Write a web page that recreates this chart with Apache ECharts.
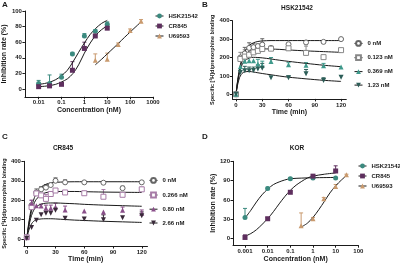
<!DOCTYPE html>
<html>
<head>
<meta charset="utf-8">
<script src="https://cdn.jsdelivr.net/npm/echarts@6/dist/echarts.min.js"></script>
<style>
  html, body { margin: 0; padding: 0; background: #fff; }
  #chart { width: 400px; height: 264px; }
</style>
</head>
<body>
<div id="chart"></div>
<script>
// A: inhibition rate vs concentration
const concA = [0.01, 0.03, 0.1, 0.3, 1, 3, 10]
const hskA = [7, 7, 15, 45, 68, 74, 83]
const hskAErr = [11, 18, 19, 47, 71, 76, 86]
const crA = [3, 4, 6, 24, 52, 68, 78]
const crAErr = [5, 6, 8, 35, 60, 70, 80]
const concUA = [3, 10, 30, 100, 300]
const uA = [37, 38, 57, 75, 87]
const uAErr = [45, 46, 59, 77, 89]
const curveXA = [0.01, 0.018, 0.032, 0.056, 0.1, 0.18, 0.32, 0.56, 1, 1.8, 3.2, 5.6, 10]
const hskCurveA = [6, 7, 9, 12, 17, 24, 35, 47, 59, 70, 78, 84, 88]
const crCurveA = [3, 3.5, 4.5, 6, 9, 13, 20, 31, 46, 59, 69, 76, 81]
const uCurveXA = [3, 5.6, 10, 18, 32, 56, 100, 180, 300]
const uCurveA = [31, 38, 45, 52, 59, 66, 73, 80, 86]
const xTicksA = [0.01, 0.1, 1, 10, 100, 1000]
const xTickLabelsA = ['0.01', '0.1', '1', '10', '100', '1000']
const yTicksA = [0, 20, 40, 60, 80, 100]

// B: HSK21542 kinetics
const timeB = [0, 5, 10, 15, 20, 25, 30, 40, 60, 80, 100, 120]
const b0 = [0, 200, 222, 252, 256, 262, 270, 252, 272, 282, 285, 300]
const b1 = [0, 192, 205, 215, 228, 236, 246, 248, 250, 225, 202, 240]
const b2 = [0, 150, 180, 183, 182, 165, 157, 178, 160, 158, 155, 148]
const b3 = [0, 118, 128, 128, 130, 138, 142, 90, 90, 112, 75, 92]
const b0Err = [null, null, 255, 280, 275, 273, 302, null, null, null, null, null]
const b1Err = [null, 228, 242, null, null, null, null, null, null, 262, null, null]
const b2Err = [null, null, null, null, null, 190, 180, 200, 172, 172, 168, null]
const b3Err = [null, null, 152, 148, 148, 160, 168, null, 100, 135, 90, 102]
const curveT = [0, 1, 2, 4, 6, 8, 10, 15, 20, 25, 30, 40, 50, 60, 80, 100, 120]
const b0Curve = [0, 43, 80, 138, 181, 212, 233, 265, 280, 287, 290, 292, 292, 292, 292, 292, 292]
const b1Curve = [0, 40, 75, 128, 166, 192, 210, 234, 243, 246, 247, 246, 244, 241, 236, 232, 228]
const b2Curve = [0, 36, 68, 117, 150, 170, 183, 197, 201, 200, 198, 192, 185, 179, 168, 158, 150]
const b3Curve = [0, 30, 55, 90, 108, 118, 122, 124, 121, 117, 113, 106, 99, 93, 84, 76, 70]

// C: CR845 kinetics
const timeC = [0, 5, 10, 15, 20, 25, 30, 40, 60, 80, 100, 120]
const c0 = [10, 175, 240, 256, 265, 278, 300, 292, 292, 290, 262, 292]
const c1 = [10, 165, 235, 225, 207, 232, 250, 240, 236, 218, 228, 256]
const c2 = [10, 185, 172, 170, 159, 159, 165, 150, 145, 140, 148, 133]
const c3 = [5, 60, 97, 125, 133, 133, 148, 108, 104, 100, 110, 120]
const c0Err = [null, null, 258, 270, 280, 285, 315, 305, null, null, 272, null]
const c1Err = [null, 200, null, null, 230, 245, null, null, null, 255, null, 268]
const c2Err = [null, 200, null, 180, 175, 175, 185, 170, null, null, 165, 150]
const c3Err = [null, null, null, null, null, null, null, null, null, 125, null, 140]
const c0Curve = [5, 45, 82, 140, 183, 214, 236, 268, 282, 289, 292, 294, 295, 295, 295, 295, 295]
const c1Curve = [5, 40, 73, 125, 162, 188, 205, 229, 239, 243, 245, 245, 245, 244, 242, 241, 240]
const c2Curve = [5, 35, 63, 106, 136, 155, 167, 180, 185, 186, 186, 184, 182, 179, 175, 172, 169]
const c3Curve = [5, 25, 44, 70, 86, 95, 100, 104, 105, 105, 104, 101, 98, 96, 92, 89, 86]
const timeTicks = [0, 30, 60, 90, 120]
const yTicksBC = [0, 100, 200, 300, 400]

// D: KOR
const concD = [0.001, 0.01, 0.1, 1, 10]
const hskD = [33, 78, 93, 94, 94]
const hskDErr = [47, 80, 95, 96, 95]
const crD = [2, 31, 72, 97, 105]
const crDErr = [6, 33, 74, 99, 113]
const concUD = [0.3, 1, 3, 10, 30]
const uD = [20, 31, 62, 81, 99]
const uDErr = [40, 33, 64, 84, 100]
const hskCurveXD = [0.001, 0.0018, 0.0032, 0.0056, 0.01, 0.018, 0.032, 0.056, 0.1, 0.32, 1, 10]
const hskCurveD = [32, 44, 57, 68, 77, 84, 88, 91, 93, 94, 94.5, 95]
const crCurveXD = [0.001, 0.0018, 0.0032, 0.0056, 0.01, 0.018, 0.032, 0.056, 0.1, 0.18, 0.32, 0.56, 1, 3.2, 10]
const crCurveD = [4, 8, 14, 22, 31, 42, 54, 65, 75, 83, 89, 94, 97, 100, 102]
const uCurveXD = [0.3, 0.56, 1, 1.8, 3.2, 5.6, 10, 18, 30]
const uCurveD = [18, 24, 33, 45, 58, 71, 82, 91, 98]
const xTicksD = [0.001, 0.01, 0.1, 1, 10, 100]
const xTickLabelsD = ['0.001', '0.01', '0.1', '1', '10', '100']
const yTicksD = [0, 30, 60, 90, 120]

const TEAL = '#3b8a7f'
const PURPLE = '#5e2f5e'
const TAN = '#c99a6e'
const FONT = '"Liberation Sans", Arial, sans-serif'
const INK = '#1a1a1a'

const lg = v => Math.log10(v)
const pairs = (xs, ys, fx) => xs.map((x, i) => [fx ? fx(x) : x, ys[i]])

function axis(grid, min, max, ticks, fmt, name, nameGap, nameSize) {
  return {
    type: 'value', gridIndex: grid, min: min, max: max,
    axisLine: { onZero: false, lineStyle: { color: INK, width: 1 } },
    axisTick: { customValues: ticks, length: 2.5, lineStyle: { color: INK, width: 1 } },
    axisLabel: {
      customValues: ticks, formatter: fmt, margin: 3,
      fontSize: 6, fontWeight: 'bold', fontFamily: FONT, color: INK
    },
    splitLine: { show: false },
    name: name, nameLocation: 'middle', nameGap: nameGap,
    nameTextStyle: { fontSize: nameSize || 7, fontWeight: 'bold', fontFamily: FONT, color: INK }
  }
}

function logFmt(ticks, labels) {
  return v => {
    const i = ticks.findIndex(t => Math.abs(lg(t) - v) < 1e-6)
    return i >= 0 ? labels[i] : ''
  }
}

function markers(name, grid, data, symbol, color, filled, rotate) {
  return {
    name: name, type: 'line', xAxisIndex: grid, yAxisIndex: grid,
    data: data, symbol: symbol, symbolSize: 5, symbolRotate: rotate || 0,
    showSymbol: true, lineStyle: { opacity: 0 },
    itemStyle: { color: filled ? color : '#fff', borderColor: color, borderWidth: filled ? 0 : 1 },
    z: 3, silent: true
  }
}

function curve(grid, data) {
  return {
    type: 'line', xAxisIndex: grid, yAxisIndex: grid, data: data,
    smooth: 0.3, symbol: 'none',
    lineStyle: { color: INK, width: 1 }, z: 2, silent: true
  }
}

function errBars(grid, xs, ys, his, color, fx) {
  const data = []
  xs.forEach((x, i) => {
    if (his[i] != null) data.push([fx ? fx(x) : x, ys[i], his[i]])
  })
  return {
    type: 'custom', xAxisIndex: grid, yAxisIndex: grid, data: data, z: 1, silent: true,
    renderItem: (params, api) => {
      const a = api.coord([api.value(0), api.value(1)])
      const b = api.coord([api.value(0), api.value(2)])
      const st = { stroke: color, lineWidth: 1 }
      return {
        type: 'group', children: [
          { type: 'line', shape: { x1: a[0], y1: a[1], x2: b[0], y2: b[1] }, style: st },
          { type: 'line', shape: { x1: b[0] - 2, y1: b[1], x2: b[0] + 2, y2: b[1] }, style: st }
        ]
      }
    }
  }
}

function legend(names, left, top, gap) {
  return {
    data: names, left: left, top: top, orient: 'vertical',
    itemWidth: 8, itemHeight: 6, itemGap: gap,
    textStyle: { fontSize: 6, fontWeight: 'bold', fontFamily: FONT, color: INK },
    lineStyle: { opacity: 1, width: 1, color: INK }
  }
}

function label(text, x, y, size, align) {
  return {
    type: 'text', x: x, y: y,
    style: { text: text, align: align || 'left', verticalAlign: 'middle', fill: INK, font: 'bold ' + size + 'px ' + FONT }
  }
}

const chart = echarts.init(document.getElementById('chart'))

const option = {
  animation: false,
  backgroundColor: '#fff',
  grid: [
    { left: 22.3, top: 11, width: 130.7, height: 85.8 },
    { left: 232.5, top: 20.7, width: 113.8, height: 78.2 },
    { left: 22.8, top: 161.3, width: 124.7, height: 84.8 },
    { left: 233, top: 161.3, width: 125.3, height: 83.9 }
  ],
  xAxis: [
    axis(0, -2.6, 3, xTicksA.map(lg), logFmt(xTicksA, xTickLabelsA), 'Concentration (nM)', 10),
    axis(1, -4, 126, timeTicks, null, 'Time (min)', 10),
    axis(2, -3, 126, timeTicks, null, 'Time (min)', 10),
    axis(3, -3.53, 2, xTicksD.map(lg), logFmt(xTicksD, xTickLabelsD), 'Concentration (nM)', 10)
  ],
  yAxis: [
    axis(0, -10, 100, yTicksA, null, 'Inhibition rate (%)', 13),
    axis(1, -25, 400, yTicksBC, null, 'Specific [³H]diprenorphine binding', 15, 5.5),
    axis(2, -35, 400, yTicksBC, null, 'Specific [³H]diprenorphine binding', 15, 5.5),
    axis(3, -10, 120, yTicksD, null, 'Inhibition rate (%)', 12)
  ],
  legend: [
    legend(['HSK21542', 'CR845', 'U69593'], 150, 8, 4),
    legend(['0 nM', '0.123 nM', '0.369 nM', '1.23 nM'], 349, 35, 7.5),
    legend(['0 nM', '0.266 nM', '0.80 nM', '2.66 nM'], 144, 172, 7.8),
    legend(['HSK21542', 'CR845', 'U69593'], 353, 158, 4)
  ],
  graphic: [
    label('A', 2, 5, 8), label('B', 202, 5, 8), label('C', 2, 137, 8), label('D', 202, 137, 8),
    label('HSK21542', 297, 8, 6.5, 'center'),
    label('CR845', 63, 148.5, 6.5, 'center'),
    label('KOR', 297, 148.5, 6.5, 'center')
  ],
  series: [
    // A
    curve(0, pairs(curveXA, hskCurveA, lg)),
    curve(0, pairs(curveXA, crCurveA, lg)),
    curve(0, pairs(uCurveXA, uCurveA, lg)),
    errBars(0, concA, hskA, hskAErr, TEAL, lg),
    errBars(0, concA, crA, crAErr, PURPLE, lg),
    errBars(0, concUA, uA, uAErr, TAN, lg),
    markers('HSK21542', 0, pairs(concA, hskA, lg), 'circle', TEAL, true),
    markers('CR845', 0, pairs(concA, crA, lg), 'rect', PURPLE, true),
    markers('U69593', 0, pairs(concUA, uA, lg), 'triangle', TAN, true),
    // B
    curve(1, pairs(curveT, b0Curve)),
    curve(1, pairs(curveT, b1Curve)),
    curve(1, pairs(curveT, b2Curve)),
    curve(1, pairs(curveT, b3Curve)),
    errBars(1, timeB, b0, b0Err, '#666'),
    errBars(1, timeB, b1, b1Err, '#888'),
    errBars(1, timeB, b2, b2Err, '#3f9a8c'),
    errBars(1, timeB, b3, b3Err, '#2d5e58'),
    markers('0 nM', 1, pairs(timeB, b0), 'circle', '#666', false),
    markers('0.123 nM', 1, pairs(timeB, b1), 'rect', '#888', false),
    markers('0.369 nM', 1, pairs(timeB, b2), 'triangle', '#3f9a8c', true),
    markers('1.23 nM', 1, pairs(timeB, b3), 'triangle', '#2d5e58', true, 180),
    // C
    curve(2, pairs(curveT, c0Curve)),
    curve(2, pairs(curveT, c1Curve)),
    curve(2, pairs(curveT, c2Curve)),
    curve(2, pairs(curveT, c3Curve)),
    errBars(2, timeC, c0, c0Err, '#666'),
    errBars(2, timeC, c1, c1Err, '#a77ca7'),
    errBars(2, timeC, c2, c2Err, '#8a4f8a'),
    errBars(2, timeC, c3, c3Err, '#3a2a3a'),
    markers('0 nM', 2, pairs(timeC, c0), 'circle', '#666', false),
    markers('0.266 nM', 2, pairs(timeC, c1), 'rect', '#a77ca7', false),
    markers('0.80 nM', 2, pairs(timeC, c2), 'triangle', '#8a4f8a', true),
    markers('2.66 nM', 2, pairs(timeC, c3), 'triangle', '#3a2a3a', true, 180),
    // D
    curve(3, pairs(hskCurveXD, hskCurveD, lg)),
    curve(3, pairs(crCurveXD, crCurveD, lg)),
    curve(3, pairs(uCurveXD, uCurveD, lg)),
    errBars(3, concD, hskD, hskDErr, TEAL, lg),
    errBars(3, concD, crD, crDErr, PURPLE, lg),
    errBars(3, concUD, uD, uDErr, TAN, lg),
    markers('HSK21542', 3, pairs(concD, hskD, lg), 'circle', TEAL, true),
    markers('CR845', 3, pairs(concD, crD, lg), 'rect', PURPLE, true),
    markers('U69593', 3, pairs(concUD, uD, lg), 'triangle', TAN, true)
  ]
}

chart.setOption(option)
</script>
</body>
</html>
